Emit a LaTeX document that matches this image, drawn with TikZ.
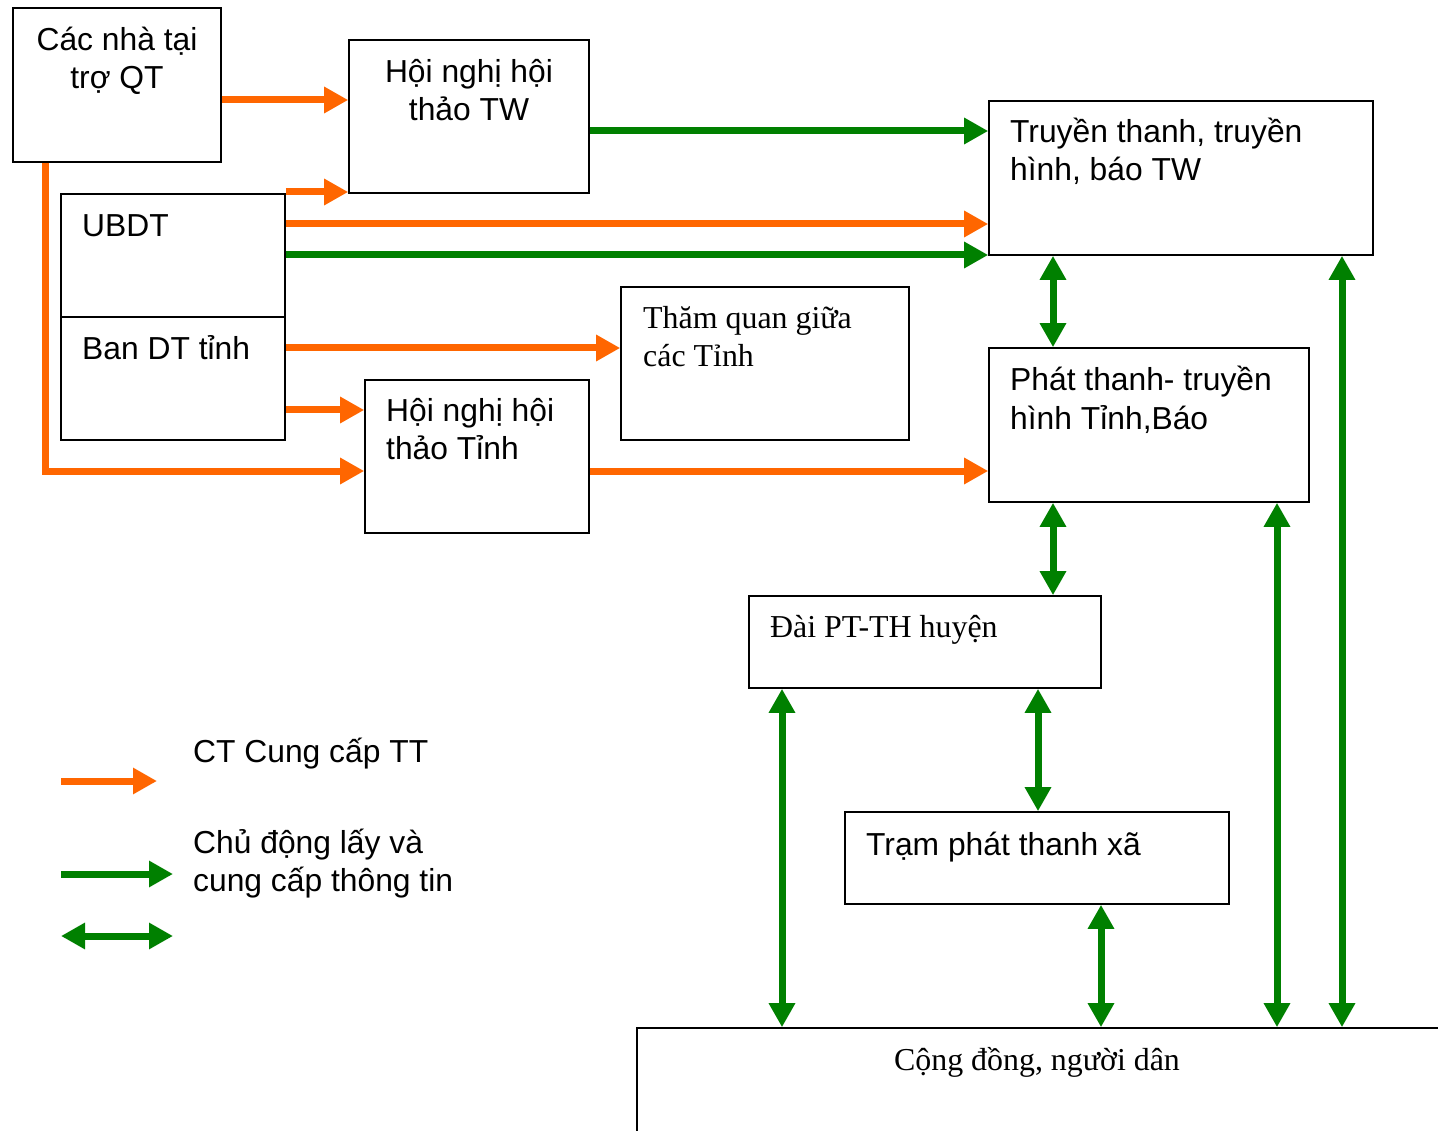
\documentclass[tikz,border=0pt]{standalone}
\usepackage{fontspec}
\setmainfont{Liberation Serif}
\newfontfamily\arialf{Liberation Sans}
\usetikzlibrary{arrows.meta}
\definecolor{orng}{HTML}{FF6600}
\definecolor{grn}{HTML}{008000}
\tikzset{
  box/.style={draw=black, line width=1.6pt, fill=white, inner sep=0pt, rectangle},
  sans/.style={inner sep=0pt, font=\arialf\fontsize{31.8}{38}\selectfont},
  serif/.style={inner sep=0pt, font=\fontsize{31.9}{38}\selectfont},
  oarrow/.style={draw=orng, line width=7pt, -{Triangle[length=24pt,width=25pt]}},
  garrow/.style={draw=grn, line width=7pt, -{Triangle[length=24pt,width=25pt]}},
  gdouble/.style={draw=grn, line width=7pt, {Triangle[length=24pt,width=25pt]}-{Triangle[length=24pt,width=25pt]}},
}
\begin{document}
\begin{tikzpicture}[x=1pt,y=-1pt]
\useasboundingbox (0,0) rectangle (1438,1131);
\fill[white] (0,0) rectangle (1438,1131);
% boxes
\node[box, minimum width=208pt, minimum height=154pt] (A) at (117,85) {};
\node[box, minimum width=240pt, minimum height=153pt] (B) at (469,116.5) {};
\node[box, minimum width=384pt, minimum height=154pt] (C) at (1181,178) {};
\node[box, minimum width=224pt, minimum height=123pt] (U) at (173,255.5) {};
\node[box, minimum width=224pt, minimum height=123pt] (D) at (173,378.5) {};
\node[box, minimum width=288pt, minimum height=153pt] (T) at (765,363.5) {};
\node[box, minimum width=224pt, minimum height=153pt] (H) at (477,456.5) {};
\node[box, minimum width=320pt, minimum height=154pt] (P) at (1149,425) {};
\node[box, minimum width=352pt, minimum height=92pt] (Dai) at (925,642) {};
\node[box, minimum width=384pt, minimum height=92pt] (X) at (1037,858) {};
\node[box, minimum width=806pt, minimum height=112pt] (CD) at (1040,1084) {};
% texts
\node[sans, anchor=base] (A1) at (117,51) {Các nhà tại};
\node[sans, anchor=base] (A2) at (117,89) {trợ QT};
\node[sans, anchor=base] (B1) at (469,83) {Hội nghị hội};
\node[sans, anchor=base] (B2) at (469,121) {thảo TW};
\node[sans, anchor=base west] (C1) at (1010,143) {Truyền thanh, truyền};
\node[sans, anchor=base west] (C2) at (1010,181) {hình, báo TW};
\node[sans, anchor=base west] (U1) at (82,237) {UBDT};
\node[sans, anchor=base west] (D1) at (82,360) {Ban DT tỉnh};
\node[serif, anchor=base west] (T1) at (643,329) {Thăm quan giữa};
\node[serif, anchor=base west] (T2) at (643,367) {các Tỉnh};
\node[sans, anchor=base west] (H1) at (386,422) {Hội nghị hội};
\node[sans, anchor=base west] (H2) at (386,460) {thảo Tỉnh};
\node[sans, anchor=base west] (P1) at (1010,391) {Phát thanh- truyền};
\node[sans, anchor=base west] (P2) at (1010,429) {hình Tỉnh,Báo};
\node[serif, anchor=base west] (Dai1) at (770,637) {Đài PT-TH huyện};
\node[sans, anchor=base west] (X1) at (866,855) {Trạm phát thanh xã};
\node[serif, anchor=base] (CD1) at (1037,1070) {Cộng đồng, người dân};
% connectors
\draw[oarrow] (A.east |- 0,100) -- (B.west |- 0,100);
\draw[oarrow] (U.east |- 0,192) -- (B.west |- 0,192);
\draw[garrow] (B.east |- 0,131) -- (C.west |- 0,131);
\draw[oarrow] (U.east |- 0,224) -- (C.west |- 0,224);
\draw[garrow] (U.east |- 0,255) -- (C.west |- 0,255);
\draw[oarrow] (D.east |- 0,348) -- (T.west |- 0,348);
\draw[oarrow] (D.east |- 0,410) -- (H.west |- 0,410);
\draw[oarrow, line join=miter] (A.south -| 45,0) -- (45,471) -- (H.west |- 0,471);
\draw[oarrow] (H.east |- 0,471) -- (P.west |- 0,471);
\draw[gdouble] (C.south -| 1053,0) -- (P.north -| 1053,0);
\draw[gdouble] (P.south -| 1053,0) -- (Dai.north -| 1053,0);
\draw[gdouble] (Dai.south -| 782,0) -- (CD.north -| 782,0);
\draw[gdouble] (Dai.south -| 1038,0) -- (X.north -| 1038,0);
\draw[gdouble] (X.south -| 1101,0) -- (CD.north -| 1101,0);
\draw[gdouble] (P.south -| 1277,0) -- (CD.north -| 1277,0);
\draw[gdouble] (C.south -| 1342,0) -- (CD.north -| 1342,0);
% legend
\coordinate (L1a) at (61,781); \coordinate (L1b) at (157,781);
\coordinate (L2a) at (61,874); \coordinate (L2b) at (173,874);
\coordinate (L3a) at (61,936); \coordinate (L3b) at (173,936);
\draw[oarrow] (L1a) -- (L1b);
\draw[garrow] (L2a) -- (L2b);
\draw[gdouble] (L3a) -- (L3b);
\node[sans, anchor=base west] (Lt1) at (193,762) {CT Cung cấp TT};
\node[sans, anchor=base west] (Lt2) at (193,853) {Chủ động lấy và};
\node[sans, anchor=base west] (Lt3) at (193,891) {cung cấp thông tin};
\end{tikzpicture}
\end{document}
